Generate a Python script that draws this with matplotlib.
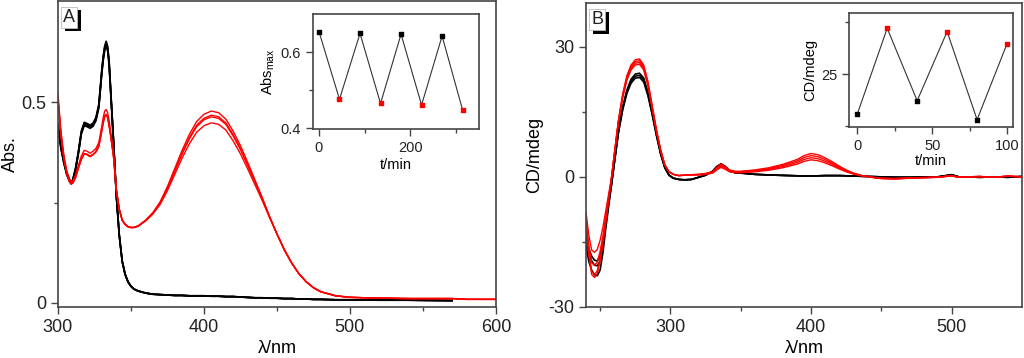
import numpy as np
import matplotlib.pyplot as plt
from matplotlib import patheffects as pe

plt.rcParams['font.family'] = ['Liberation Sans', 'DejaVu Sans']
plt.rcParams['axes.unicode_minus'] = False

# ---- panel A: absorption spectra ----
wl_a = [300, 302, 304, 306, 308, 309, 310, 312, 314, 316, 318, 320, 322, 324, 326, 328,
        330, 331, 332, 333, 334, 335, 336, 338, 340, 342, 344, 346, 348, 350, 352, 355,
        360, 365, 370, 375, 380, 385, 390, 395, 400, 405, 410, 415, 420, 425, 430, 435,
        440, 445, 450, 455, 460, 465, 470, 475, 480, 490, 500, 520, 540, 570, 580, 600]
black_a = [0.447, 0.392, 0.355, 0.325, 0.307, 0.302, 0.306, 0.335, 0.378, 0.428, 0.450, 0.447,
           0.443, 0.448, 0.462, 0.495, 0.580, 0.615, 0.640, 0.652, 0.640, 0.605, 0.540, 0.410,
           0.270, 0.170, 0.105, 0.072, 0.053, 0.042, 0.035, 0.030, 0.025, 0.022, 0.021, 0.020,
           0.019, 0.019, 0.018, 0.018, 0.018, 0.017, 0.017, 0.016, 0.016, 0.015, 0.014, 0.013,
           0.013, 0.012, 0.012, 0.011, 0.011, 0.010, 0.010, 0.009, 0.009, 0.008, 0.008, 0.007,
           0.007, 0.006]
red_a = [0.522, 0.430, 0.370, 0.330, 0.307, 0.302, 0.303, 0.318, 0.343, 0.366, 0.380, 0.378,
         0.373, 0.378, 0.385, 0.400, 0.440, 0.462, 0.478, 0.482, 0.475, 0.455, 0.430, 0.375,
         0.285, 0.235, 0.207, 0.196, 0.190, 0.188, 0.188, 0.192, 0.206, 0.225, 0.252, 0.290,
         0.335, 0.380, 0.420, 0.452, 0.470, 0.478, 0.474, 0.458, 0.428, 0.392, 0.350, 0.306,
         0.262, 0.215, 0.172, 0.133, 0.100, 0.073, 0.053, 0.038, 0.028, 0.018, 0.014, 0.012,
         0.011, 0.011, 0.009, 0.009]
black_a_scale = [1.0, 0.994, 0.988, 0.982]
red_a_uv_scale = [1.0, 0.96, 0.955, 0.955]
red_a_vis_scale = [1.0, 0.965, 0.951, 0.899]
red_a_floor = 0.188

# ---- panel B: CD spectra ----
wl_b = [240, 242, 244, 246, 248, 250, 252, 254, 256, 258, 260, 263, 266, 269, 272, 275,
        278, 281, 284, 287, 290, 293, 296, 299, 302, 306, 310, 315, 320, 325, 330, 333,
        336, 339, 342, 346, 350, 360, 370, 380, 390, 395, 400, 405, 410, 415, 420, 425,
        430, 435, 440, 445, 450, 460, 470, 480, 490, 500, 505, 510, 520, 530, 540, 550]
black_b = [-16.0, -19.5, -21.5, -22.6, -22.8, -21.5, -17.5, -12.0, -7.0, -2.0, 3.0, 10.5,
           16.0, 20.0, 22.5, 23.7, 23.9, 22.8, 19.5, 15.0, 10.0, 5.5, 2.2, 0.4, -0.3, -0.6,
           -0.7, -0.6, -0.1, 0.4, 1.3, 2.4, 3.0, 2.4, 1.4, 1.0, 0.9, 0.6, 0.45, 0.35, 0.25,
           0.2, 0.2, 0.25, 0.3, 0.3, 0.3, 0.25, 0.2, 0.15, 0.1, 0.05, 0.0, -0.1, -0.1, -0.05,
           0.0, 0.5, 0.0, 0.0, -0.1, 0.0, -0.1, 0.1]
red_b = [-11.0, -18.0, -22.5, -23.2, -22.3, -19.5, -15.5, -10.5, -5.5, -0.5, 5.0, 13.0,
         19.0, 23.3, 25.8, 27.0, 27.2, 25.8, 22.0, 16.5, 11.0, 6.3, 2.8, 1.2, 0.6, 0.3,
         0.4, 0.5, 0.6, 0.8, 1.2, 2.2, 3.0, 2.4, 1.6, 1.3, 1.3, 1.6, 2.1, 2.9, 4.0, 4.9,
         5.4, 5.1, 4.4, 3.5, 2.5, 1.6, 0.9, 0.4, 0.1, -0.2, -0.4, -0.5, -0.3, -0.2, -0.1,
         0.3, -0.1, 0.0, 0.1, -0.1, 0.2, 0.0]
black_b_neg_scale = [1.0, 0.90, 0.85]
black_b_pos_scale = [1.0, 0.98, 0.96]
red_b_neg_scale = [1.0, 0.97, 0.88, 0.75]
red_b_peak_scale = [1.0, 0.985, 0.97, 0.955]
red_b_band_scale = [1.0, 0.91, 0.82, 0.73]

# ---- insets ----
t_a = [0, 45, 90, 135, 180, 225, 270, 315]
abs_max = [0.654, 0.476, 0.649, 0.465, 0.647, 0.461, 0.642, 0.448]
t_b = [0, 20, 40, 60, 80, 100]
cd_max = [23.08, 27.21, 23.73, 27.05, 22.82, 26.47]

frame = '#444444'
red = '#ff0000'


def style(ax, size):
    for s in ax.spines.values():
        s.set_color(frame)
        s.set_linewidth(1.2)
    ax.tick_params(which='both', direction='out', color=frame, labelsize=size,
                   labelcolor='#222222', width=1.0)
    ax.tick_params(which='major', length=5)
    ax.tick_params(which='minor', length=3)


def panel_label(ax, txt):
    t = ax.text(0.012, 0.975, txt, transform=ax.transAxes, ha='left', va='top',
                fontsize=13, color='#222222',
                bbox=dict(boxstyle='square,pad=0.12', fc='white', ec='#bbbbbb', lw=0.6))
    t.get_bbox_patch().set_path_effects([
        pe.SimplePatchShadow(offset=(2.5, -2.5), shadow_rgbFace='k', alpha=1.0),
        pe.Normal()])


fig = plt.figure(figsize=(10.24, 3.58), dpi=100)

# panel A
axA = fig.add_axes([0.0566, 0.1425, 0.4277, 0.8545])
wa = np.array(wl_a)
wa_b = wa[:len(black_a)]
for s in black_a_scale:
    axA.plot(wa_b, np.array(black_a) * s, color='k', lw=1.2)
ra = np.array(red_a)
for su, sv in zip(red_a_uv_scale, red_a_vis_scale):
    sc = np.where(wa < 352, su, sv)
    y = ra - (1 - sc) * np.clip(ra - red_a_floor, 0, None)
    axA.plot(wa, y, color=red, lw=1.0)
axA.set_xlim(300, 600)
axA.set_ylim(-0.01, 0.752)
axA.set_xticks([300, 400, 500, 600])
axA.set_xticks([350, 450, 550], minor=True)
axA.set_yticks([0, 0.5])
axA.set_yticklabels(['0', '0.5'])
axA.set_yticks([0.25], minor=True)
style(axA, 13)
axA.set_xlabel('λ/nm', fontsize=13, labelpad=3)
axA.set_ylabel('Abs.', fontsize=13)
axA.yaxis.set_label_coords(-0.088, 0.5)
panel_label(axA, 'A')

# panel B
axB = fig.add_axes([0.5723, 0.1425, 0.4258, 0.848])
wb = np.array(wl_b)
bb = np.array(black_b)
for sn, sp in zip(black_b_neg_scale, black_b_pos_scale):
    sc = np.where(wb < 258, sn, sp)
    axB.plot(wb, bb * sc, color='k', lw=1.2)
rb = np.array(red_b)
for sn, sp, sv in zip(red_b_neg_scale, red_b_peak_scale, red_b_band_scale):
    sc = np.where(wb < 258, sn, np.where(wb < 320, sp, sv))
    axB.plot(wb, rb * sc, color=red, lw=1.0)
axB.set_xlim(240, 550)
axB.set_ylim(-30, 40)
axB.set_xticks([300, 400, 500])
axB.set_xticks([250, 350, 450], minor=True)
axB.set_yticks([-30, 0, 30])
axB.set_yticks([-15, 15], minor=True)
style(axB, 13)
axB.set_xlabel('λ/nm', fontsize=13, labelpad=3)
axB.set_ylabel('CD/mdeg', fontsize=13, labelpad=4)
panel_label(axB, 'B')

# inset A
inA = fig.add_axes([0.3057, 0.6397, 0.1621, 0.3212])
inA.plot(t_a, abs_max, color='#333333', lw=0.8)
inA.scatter(t_a[0::2], abs_max[0::2], marker='s', s=9, color='k', zorder=3)
inA.scatter(t_a[1::2], abs_max[1::2], marker='s', s=9, color=red, zorder=3)
inA.set_xlim(-13, 351)
inA.set_ylim(0.398, 0.70)
inA.set_xticks([0, 200])
inA.set_xticks([100, 300], minor=True)
inA.set_yticks([0.4, 0.6])
inA.set_yticks([0.5], minor=True)
style(inA, 10.5)
inA.set_xlabel('t/min', fontsize=10.5, labelpad=2)
inA.set_ylabel('Abs$_{\\mathregular{max}}$', fontsize=10.5, labelpad=3)

# inset B
inB = fig.add_axes([0.8291, 0.6461, 0.1602, 0.3184])
inB.plot(t_b, cd_max, color='#333333', lw=0.8)
inB.scatter(t_b[0::2], cd_max[0::2], marker='s', s=9, color='k', zorder=3)
inB.scatter(t_b[1::2], cd_max[1::2], marker='s', s=9, color=red, zorder=3)
inB.set_xlim(-5.5, 104)
inB.set_ylim(22.48, 27.96)
inB.set_xticks([0, 50, 100])
inB.set_xticks([25, 75], minor=True)
inB.set_yticks([25])
inB.set_yticks([22.5, 27.5], minor=True)
style(inB, 10.5)
inB.set_xlabel('t/min', fontsize=10.5, labelpad=1)
inB.set_ylabel('CD/mdeg', fontsize=10.5, labelpad=3)

fig.savefig('out.png', dpi=100)
